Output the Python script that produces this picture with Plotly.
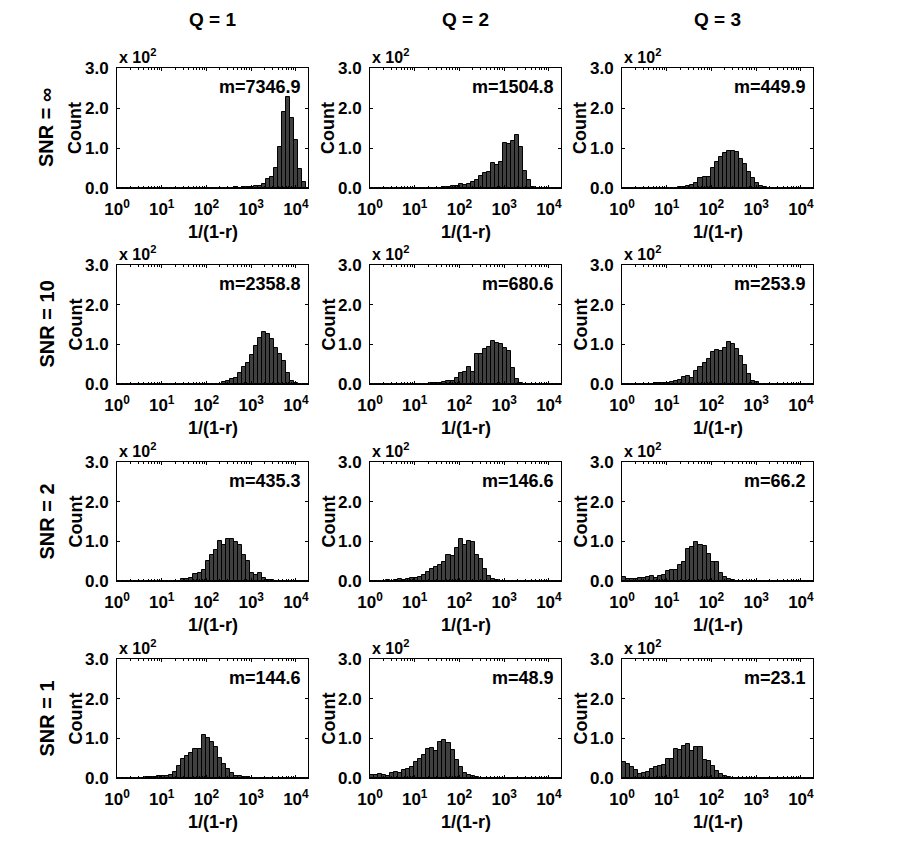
import math
import plotly.graph_objects as go

# ---------------- data ----------------
BIN_WIDTH = 0.09          # histogram bin width in log10(1/(1-r))
N_BINS = 48
X_MAX_LOG = 4.27          # right end of x axis (log10)

Q_LABELS = ["Q = 1", "Q = 2", "Q = 3"]
SNR_LABELS = ["SNR = \u221e", "SNR = 10", "SNR = 2", "SNR = 1"]
TICK_EXP = [0, 1, 2, 3, 4]
Y_TICKS = [0, 100, 200, 300]
Y_TICK_TEXT = ["0.0", "1.0", "2.0", "3.0"]

MEANS = [
    ["m=7346.9", "m=1504.8", "m=449.9"],
    ["m=2358.8", "m=680.6", "m=253.9"],
    ["m=435.3", "m=146.6", "m=66.2"],
    ["m=144.6", "m=48.9", "m=23.1"],
]

# counts per bin, bins k = 0..47 (bin k covers [0.09k, 0.09(k+1)] in log10)
counts_snr_inf_q1 = [0, 0, 0, 0, 0, 0, 0, 0, 0, 0, 0, 0, 0, 0, 0, 0, 0, 0, 0, 0, 0, 0, 0, 0, 0, 0,
                     1, 1, 1, 2, 1, 2, 3, 3, 4, 5, 9, 23, 27, 49, 102, 191, 228, 174, 120, 47, 16, 0]
counts_snr_inf_q2 = [0, 0, 0, 0, 0, 0, 0, 0, 0, 0, 0, 0,
                     1, 0, 1, 0, 1, 1, 2, 2, 4, 5, 9, 7, 10, 14, 20, 30, 38, 39, 63, 57, 64, 112,
                     110, 118, 132, 102, 43, 20, 3, 0, 0, 0, 0, 0, 0, 0]
counts_snr_inf_q3 = [0, 0, 0, 0, 0, 0, 0, 0, 0, 0, 0, 0, 0,
                     1, 2, 3, 6, 8, 13, 26, 27, 28, 51, 64, 78, 87, 92, 92, 90, 72, 59, 39, 24, 12, 5, 2,
                     0, 0, 0, 0, 0, 0, 0, 0, 0, 0, 0, 0]
counts_snr_10_q1 = [0, 0, 0, 0, 0, 0, 0, 0, 0, 0, 0, 0, 0, 0, 0, 0, 0, 0, 0, 0, 0, 0, 0, 0, 0, 0,
                    4, 7, 13, 15, 28, 42, 53, 72, 96, 115, 132, 127, 113, 90, 75, 58, 28, 7, 2,
                    0, 0, 0]
counts_snr_10_q2 = [0, 0, 0, 0, 0, 0, 0, 0, 0, 0, 0, 0, 0, 0, 0,
                    2, 2, 3, 6, 8, 7, 15, 28, 30, 42, 30, 76, 75, 87, 93, 108, 104, 100, 92, 83, 41, 13, 3,
                    0, 0, 0, 0, 0, 0, 0, 0, 0, 0]
counts_snr_10_q3 = [0, 0, 0, 0, 0, 0,
                    1, 1, 2, 2, 2, 3, 4, 7, 9, 17, 20, 15, 34, 42, 53, 62, 80, 85, 82, 90, 107, 102,
                    88, 70, 49, 24, 8, 4,
                    0, 0, 0, 0, 0, 0, 0, 0, 0, 0, 0, 0, 0, 0]
counts_snr_2_q1 = [0, 0, 0, 0, 0, 0, 0, 0, 0, 0, 0, 0, 0, 0, 0, 0,
                   5, 4, 8, 18, 20, 29, 50, 65, 77, 100, 90, 105, 107, 98, 90, 65, 50, 20, 15, 19, 8, 3, 2,
                   0, 0, 0, 0, 0, 0, 0, 0, 0]
counts_snr_2_q2 = [0, 0, 0,
                   1, 2, 1, 3, 4, 3, 5, 8, 8, 11, 15, 22, 30, 36, 40, 47, 66, 63, 82, 105, 92, 100, 98,
                   65, 55, 30, 12, 5, 2, 1,
                   0, 0, 0, 0, 0, 0, 0, 0, 0, 0, 0, 0, 0, 0, 0]
counts_snr_2_q3 = [10, 5, 4, 6, 7, 8, 9, 13, 8, 12, 16, 24, 27, 29, 40, 48, 80, 85, 98, 90, 88, 67, 48,
                   47, 20, 10, 4, 2,
                   0, 0, 0, 0, 0, 0, 0, 0, 0, 0, 0, 0, 0, 0, 0, 0, 0, 0, 0, 0]
counts_snr_1_q1 = [0, 0, 0, 0, 0,
                   1, 1, 2, 3, 2, 4, 5, 6, 8, 14, 30, 47, 55, 62, 72, 73, 108, 100, 90, 78, 50, 35, 22,
                   12, 5, 4, 3, 2, 1,
                   0, 0, 0, 0, 0, 0, 0, 0, 0, 0, 0, 0, 0, 0]
counts_snr_1_q2 = [7, 8, 10, 8, 6, 12, 15, 13, 20, 23, 27, 40, 48, 58, 72, 76, 68, 90, 97, 88, 70, 45,
                   28, 13, 8, 4, 2, 1,
                   0, 0, 0, 0, 0, 0, 0, 0, 0, 0, 0, 0, 0, 0, 0, 0, 0, 0, 0, 0]
counts_snr_1_q3 = [40, 36, 28, 20, 10, 12, 16, 22, 27, 30, 34, 48, 47, 74, 71, 80, 86, 68, 77, 77, 45,
                   42, 30, 18, 10, 4, 2, 1,
                   0, 0, 0, 0, 0, 0, 0, 0, 0, 0, 0, 0, 0, 0, 0, 0, 0, 0, 0, 0]

PANELS = [
    [counts_snr_inf_q1, counts_snr_inf_q2, counts_snr_inf_q3],
    [counts_snr_10_q1, counts_snr_10_q2, counts_snr_10_q3],
    [counts_snr_2_q1, counts_snr_2_q2, counts_snr_2_q3],
    [counts_snr_1_q1, counts_snr_1_q2, counts_snr_1_q3],
]

# ---------------- layout ----------------
PAGE_MARGIN = 8                 # browser default body margin
W, H = 899 - PAGE_MARGIN, 844 - PAGE_MARGIN
# panel boxes in page pixels
COL_PX = [(117, 308), (370, 561), (622, 813)]
ROW_PX = [(68, 188), (265, 384), (462, 581), (659, 778)]
FONT = "Liberation Sans, Arial, Helvetica, sans-serif"
BAR_FILL = "rgb(64,64,64)"

def px_x(p):
    return (p - PAGE_MARGIN) / W

def px_y(p):
    return 1 - (p - PAGE_MARGIN) / H

bin_centers = [BIN_WIDTH * (k + 0.5) for k in range(N_BINS)]
minor_vals = [math.log10(m * 10 ** d) for d in range(0, 5) for m in range(2, 10)
              if math.log10(m * 10 ** d) < X_MAX_LOG]

fig = go.Figure()
layout = dict(
    width=W, height=H, autosize=False,
    margin=dict(l=0, r=0, t=0, b=0, pad=0, autoexpand=False),
    paper_bgcolor="white", plot_bgcolor="white", showlegend=False,
    bargap=0, annotations=[],
)

def tfont(size):
    return dict(family=FONT, size=size, color="black", weight="bold")

idx = 0
for r in range(4):
    for c in range(3):
        idx += 1
        xa = "x" if idx == 1 else f"x{idx}"
        ya = "y" if idx == 1 else f"y{idx}"
        xkey = "xaxis" if idx == 1 else f"xaxis{idx}"
        ykey = "yaxis" if idx == 1 else f"yaxis{idx}"
        fig.add_trace(go.Bar(
            x=bin_centers, y=PANELS[r][c], width=BIN_WIDTH,
            marker=dict(color=BAR_FILL, line=dict(color="black", width=1)),
            xaxis=xa, yaxis=ya, hoverinfo="x+y",
        ))
        x0, x1 = COL_PX[c]
        y0, y1 = ROW_PX[r]
        layout[xkey] = dict(
            domain=[px_x(x0), px_x(x1)], anchor=ya, range=[0, X_MAX_LOG],
            automargin=False,
            tickmode="array", tickvals=TICK_EXP,
            ticktext=[f"10<sup>{e}</sup>" for e in TICK_EXP],
            ticks="inside", ticklen=3, tickcolor="black",
            showline=True, linecolor="black", linewidth=1, mirror="ticks",
            showgrid=False, zeroline=False, tickfont=tfont(17),
            ticklabelstandoff=6,
            minor=dict(tickmode="array", tickvals=minor_vals, ticks="inside",
                       ticklen=2, tickcolor="black", showgrid=False),
            fixedrange=True,
        )
        layout[ykey] = dict(
            domain=[px_y(y1), px_y(y0)], anchor=xa, range=[0, 300],
            automargin=False,
            tickmode="array", tickvals=Y_TICKS, ticktext=Y_TICK_TEXT,
            ticks="inside", ticklen=3, tickcolor="black",
            showline=True, linecolor="black", linewidth=1, mirror="ticks",
            showgrid=False, zeroline=False, tickfont=tfont(17),
            ticklabelstandoff=4, fixedrange=True,
        )
        dx = f"{xa} domain"
        dy = f"{ya} domain"
        anns = layout["annotations"]
        anns.append(dict(text="x 10<sup>2</sup>", xref=dx, yref=dy, x=0, y=1,
                         xanchor="left", yanchor="bottom", yshift=0, showarrow=False,
                         font=tfont(16)))
        anns.append(dict(text=MEANS[r][c], xref=dx, yref=dy, x=1, y=1,
                         xanchor="right", yanchor="top", xshift=-5, yshift=-7,
                         showarrow=False, font=tfont(18)))
        anns.append(dict(text="Count", xref=dx, yref=dy, x=0, y=0.5,
                         xanchor="center", yanchor="middle", xshift=-42, textangle=-90,
                         showarrow=False, font=tfont(18)))
        anns.append(dict(text="1/(1-r)", xref=dx, yref=dy, x=0.5, y=0,
                         xanchor="center", yanchor="middle", yshift=-44,
                         showarrow=False, font=tfont(18)))

for c in range(3):
    x0, x1 = COL_PX[c]
    layout["annotations"].append(dict(
        text=Q_LABELS[c], xref="paper", yref="paper", x=px_x((x0 + x1) / 2), y=px_y(19.5),
        xanchor="center", yanchor="middle", showarrow=False, font=tfont(19)))
for r in range(4):
    y0, y1 = ROW_PX[r]
    layout["annotations"].append(dict(
        text=SNR_LABELS[r], xref="paper", yref="paper", x=px_x(46), y=px_y((y0 + y1) / 2),
        xanchor="center", yanchor="middle", textangle=-90, showarrow=False, font=tfont(20)))

fig.update_layout(**layout)
fig.write_html("out.html", config={"responsive": False})
